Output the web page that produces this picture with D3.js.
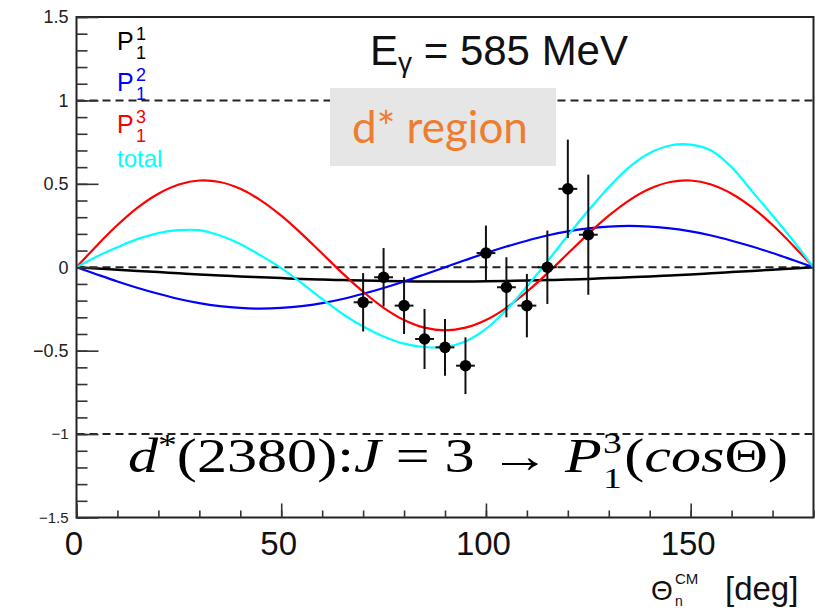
<!DOCTYPE html>
<html>
<head>
<meta charset="utf-8">
<script src="https://cdn.jsdelivr.net/npm/d3@7"></script>
<style>
  body { margin: 0; background: #fff; }
  svg { display: block; font-family: "Liberation Sans", Arial, sans-serif; }
</style>
</head>
<body>
<div id="chart"></div>
<script>
// angles (deg) at which the curves are read
const angles = [0, 5, 10, 15, 20, 25, 30, 35, 40, 45, 50, 55, 60, 65, 70, 75, 80, 85, 90,
  95, 100, 105, 110, 115, 120, 125, 130, 135, 140, 145, 150, 155, 160, 165, 170, 175, 180]

// P_1^1 (black)
const p11Vals = [0, -0.007, -0.015, -0.022, -0.029, -0.036, -0.043, -0.049, -0.055, -0.060,
  -0.065, -0.070, -0.074, -0.077, -0.080, -0.082, -0.084, -0.085, -0.085,
  -0.085, -0.084, -0.082, -0.080, -0.077, -0.074, -0.070, -0.065, -0.060, -0.055,
  -0.049, -0.043, -0.036, -0.029, -0.022, -0.015, -0.007, 0]
// P_1^2 (blue)
const p21Vals = [0, -0.043, -0.085, -0.124, -0.159, -0.190, -0.215, -0.233, -0.244, -0.248,
  -0.244, -0.233, -0.215, -0.190, -0.159, -0.124, -0.085, -0.043, 0,
  0.043, 0.085, 0.124, 0.159, 0.190, 0.215, 0.233, 0.244, 0.248, 0.244,
  0.233, 0.215, 0.190, 0.159, 0.124, 0.085, 0.043, 0]
// P_1^3 (red)
const p31Vals = [0, 0.131, 0.253, 0.359, 0.441, 0.496, 0.520, 0.511, 0.470, 0.401,
  0.309, 0.200, 0.082, -0.037, -0.147, -0.243, -0.316, -0.362, -0.378,
  -0.362, -0.316, -0.243, -0.147, -0.037, 0.082, 0.200, 0.309, 0.401, 0.470,
  0.511, 0.520, 0.496, 0.441, 0.359, 0.253, 0.131, 0]
// total (cyan)
const totalVals = [0, 0.065, 0.120, 0.170, 0.205, 0.222, 0.222, 0.190, 0.140, 0.070,
  -0.005, -0.095, -0.190, -0.280, -0.355, -0.415, -0.458, -0.478, -0.478,
  -0.445, -0.370, -0.255, -0.115, 0.035, 0.190, 0.340, 0.480, 0.600, 0.685,
  0.730, 0.735, 0.700, 0.600, 0.455, 0.310, 0.160, 0]

// measured points
const dataAngles = [70, 75, 80, 85, 90, 95, 100, 105, 110, 115, 120, 125]
const dataVals = [-0.21, -0.06, -0.23, -0.43, -0.48, -0.59, 0.085, -0.12, -0.23, 0.0, 0.47, 0.195]
const dataErr = [0.175, 0.175, 0.17, 0.18, 0.17, 0.17, 0.165, 0.18, 0.19, 0.22, 0.295, 0.36]
const dataXErr = [2.3, 2.3, 2.3, 2.3, 2.3, 2.3, 2.3, 2.3, 2.3, 2.3, 2.3, 2.3]

const xTicks = [0, 50, 100, 150]
const yTicks = [-1.5, -1, -0.5, 0, 0.5, 1, 1.5]
const refLines = [1, 0, -1]

const W = 831
const H = 611

const svg = d3.select('#chart').append('svg')
  .attr('width', W)
  .attr('height', H)

const x = d3.scaleLinear().domain([0, 180]).range([76.5, 813.5])
const y = d3.scaleLinear().domain([-1.5, 1.5]).range([517.5, 17])

// dashed reference lines
svg.append('g').selectAll('line').data(refLines).enter()
  .append('line')
  .attr('x1', x(0)).attr('x2', x(180))
  .attr('y1', d => y(d)).attr('y2', d => y(d))
  .attr('stroke', '#222')
  .attr('stroke-width', 2)
  .attr('stroke-dasharray', '8,5')

// grey "d* region" box
svg.append('rect')
  .attr('x', 330).attr('y', 88).attr('width', 226).attr('height', 78)
  .attr('fill', '#e7e6e6')
svg.append('text')
  .attr('x', 352).attr('y', 143)
  .attr('font-family', 'Lato, "Open Sans", sans-serif')
  .attr('font-size', 44)
  .attr('fill', '#ed7d31')
  .text('d* region')

// curves
const line = d3.line()
  .x((d, i) => x(angles[i]))
  .y(d => y(d))
  .curve(d3.curveCatmullRom)

const curves = [
  { vals: p11Vals, color: '#000', w: 2.5 },
  { vals: p21Vals, color: '#0000ff', w: 2.2 },
  { vals: p31Vals, color: '#ff0000', w: 2.2 },
  { vals: totalVals, color: '#00ffff', w: 2.2 }
]
svg.append('g').selectAll('path').data(curves).enter()
  .append('path')
  .attr('d', d => line(d.vals))
  .attr('fill', 'none')
  .attr('stroke', d => d.color)
  .attr('stroke-width', d => d.w)

// data points with error bars
const pts = dataAngles.map((a, i) => ({ a: a, v: dataVals[i], e: dataErr[i], xe: dataXErr[i] }))
const gp = svg.append('g')
gp.selectAll('.ey').data(pts).enter()
  .append('line')
  .attr('x1', d => x(d.a)).attr('x2', d => x(d.a))
  .attr('y1', d => y(d.v - d.e)).attr('y2', d => y(d.v + d.e))
  .attr('stroke', '#111').attr('stroke-width', 2)
gp.selectAll('.ex').data(pts).enter()
  .append('line')
  .attr('x1', d => x(d.a - d.xe)).attr('x2', d => x(d.a + d.xe))
  .attr('y1', d => y(d.v)).attr('y2', d => y(d.v))
  .attr('stroke', '#111').attr('stroke-width', 2)
gp.selectAll('circle').data(pts).enter()
  .append('circle')
  .attr('cx', d => x(d.a)).attr('cy', d => y(d.v))
  .attr('r', 5.8)
  .attr('fill', '#000')

// frame
svg.append('rect')
  .attr('x', x(0)).attr('y', y(1.5))
  .attr('width', x(180) - x(0)).attr('height', y(-1.5) - y(1.5))
  .attr('fill', 'none')
  .attr('stroke', '#222')
  .attr('stroke-width', 2)

// y axis
svg.append('g')
  .attr('transform', `translate(${x(0)},0)`)
  .call(d3.axisLeft(y).tickValues(y.ticks(30)).tickSize(-11).tickFormat(''))
const yAxis = svg.append('g')
  .attr('transform', `translate(${x(0)},0)`)
  .call(d3.axisLeft(y).tickValues(yTicks).tickSize(-22).tickPadding(8).tickFormat(d3.format('')))
yAxis.selectAll('text')
  .attr('font-family', '"Liberation Sans", Arial, sans-serif')
  .attr('font-size', d => d < -0.75 ? 15 : 18)
  .attr('fill', '#222')

// x axis
svg.append('g')
  .attr('transform', `translate(0,${y(-1.5)})`)
  .call(d3.axisBottom(x).tickValues(x.ticks(18)).tickSize(-7).tickFormat(''))
const xAxis = svg.append('g')
  .attr('transform', `translate(0,${y(-1.5)})`)
  .call(d3.axisBottom(x).tickValues(xTicks).tickSize(-14).tickPadding(14))
xAxis.selectAll('text')
  .attr('font-family', '"Liberation Sans", Arial, sans-serif')
  .attr('font-size', 33)
  .attr('fill', '#111')
  .attr('dx', -3)

svg.selectAll('.domain').remove()
svg.selectAll('.tick line').attr('stroke', '#333').attr('stroke-width', 1.6)

// x axis title
const xt = svg.append('g').attr('fill', '#111')
xt.append('text').attr('x', 651).attr('y', 600).attr('font-size', 28).text('Θ')
xt.append('text').attr('x', 675).attr('y', 584).attr('font-size', 15).text('CM')
xt.append('text').attr('x', 675).attr('y', 606).attr('font-size', 14).text('n')
xt.append('text').attr('x', 725).attr('y', 600).attr('font-size', 33).text('[deg]')

// title
const title = svg.append('text')
  .attr('x', 370).attr('y', 65)
  .attr('font-size', 42)
  .attr('fill', '#111')
title.append('tspan').text('E')
title.append('tspan').attr('font-size', 28).attr('dy', 7).text('γ')
title.append('tspan').attr('dy', -7).text(' = 585 MeV')

// legend
const legend = [
  { sup: '1', color: '#000', b: 50 },
  { sup: '2', color: '#0000ff', b: 91 },
  { sup: '3', color: '#ff0000', b: 133 }
]
const lg = svg.append('g')
legend.forEach(d => {
  lg.append('text').attr('x', 117).attr('y', d.b).attr('font-size', 25).attr('fill', d.color).text('P')
  lg.append('text').attr('x', 136).attr('y', d.b - 10).attr('font-size', 18).attr('fill', d.color).text(d.sup)
  lg.append('text').attr('x', 136).attr('y', d.b + 9).attr('font-size', 18).attr('fill', d.color).text('1')
})
lg.append('text').attr('x', 117).attr('y', 167).attr('font-size', 24).attr('fill', '#00ffff').text('total')

// formula annotation
const fg = svg.append('g')
  .attr('font-family', '"Liberation Serif", "DejaVu Serif", serif')
  .attr('fill', '#000')
const t1 = fg.append('text').attr('x', 0).attr('y', 0).attr('font-size', 48)
t1.append('tspan').attr('font-style', 'italic').text('d')
t1.append('tspan').attr('font-size', 30).attr('dy', -18).text('*')
t1.append('tspan').attr('dy', 18).text('(2380):')
t1.append('tspan').attr('font-style', 'italic').text('J')
t1.append('tspan').text(' = 3  → ')
t1.append('tspan').attr('font-style', 'italic').text('P')
const r = t1.node().getBBox()
const px = r.x + r.width
fg.append('text').attr('x', px + 1).attr('y', -19).attr('font-size', 30).text('3')
fg.append('text').attr('x', px + 1).attr('y', 16).attr('font-size', 30).text('1')
const t2 = fg.append('text').attr('x', px + 18).attr('y', 0).attr('font-size', 48)
t2.append('tspan').text('(')
t2.append('tspan').attr('font-style', 'italic').text('cos')
t2.append('tspan').text('Θ)')
const fb = fg.node().getBBox()
const sx = (788 - 128) / fb.width
fg.attr('transform', `translate(${128 - fb.x * sx},472) scale(${sx},1)`)
</script>
</body>
</html>
